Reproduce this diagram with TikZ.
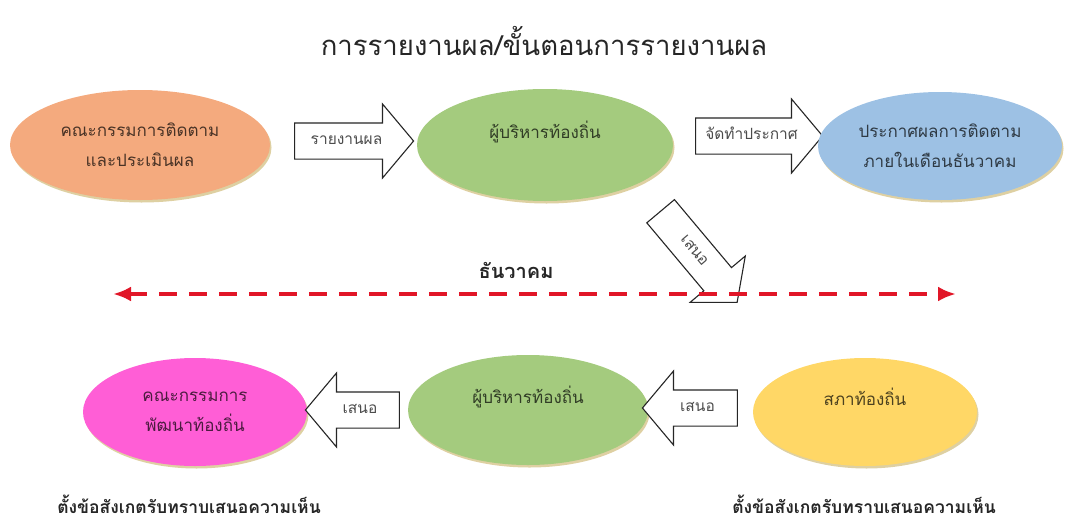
\documentclass[tikz,border=0pt]{standalone}
\usepackage{fontspec}
\newfontfamily\thaifont[Script=Thai]{Loma}
\usetikzlibrary{shapes.geometric,shapes.arrows,shadows,arrows.meta}
\definecolor{cOrange}{RGB}{244,170,126}
\definecolor{cGreen}{RGB}{164,203,126}
\definecolor{cBlue}{RGB}{157,193,228}
\definecolor{cPink}{RGB}{255,94,214}
\definecolor{cYellow}{RGB}{255,215,102}
\definecolor{rim}{RGB}{222,208,162}
\definecolor{cRed}{RGB}{225,22,40}
\begin{document}
\begin{tikzpicture}[x=1pt,y=-1pt,font=\thaifont,
  blob/.style={ellipse,inner sep=0pt,align=center,fill=#1,text=#1!30!black,
    font=\thaifont\fontsize{17}{30}\selectfont,
    drop shadow={shadow xshift=1.5pt,shadow yshift=-2.5pt,fill=rim,opacity=1}},
  blk/.style={single arrow,draw=black!85,fill=white,line width=1.1pt,
    single arrow head extend=19pt,single arrow tip angle=100,
    text height=11pt,text depth=4pt,inner ysep=10pt,inner xsep=2pt,
    text=black!70,font=\thaifont\fontsize{15.5}{17}\selectfont},
  back/.style={blk,shape border rotate=180},
  caption/.style={font=\thaifont\bfseries\fontsize{17.5}{20}\selectfont,text=black!85}]
\useasboundingbox (0,0) rectangle (1070,522);
\node[font=\thaifont\fontsize{27.5}{30}\selectfont,text=black!85] (title) at (544,41) {การรายงานผล/ขั้นตอนการรายงานผล};
\node[blob=cOrange,minimum width=260pt,minimum height=110pt] (evaluate) at (140,145) {คณะกรรมการติดตาม\\และประเมินผล};
\node[blk,minimum height=119pt] (report) at (346.5,141) {รายงานผล};
\node[blob=cGreen,minimum width=256pt,minimum height=112pt] (exec) at (545,145) {ผู้บริหารท้องถิ่น\\\mbox{}};
\node[blk,minimum height=127pt] (announce) at (751.5,136) {จัดทำประกาศ};
\node[blob=cBlue,minimum width=244pt,minimum height=108pt] (notice) at (940,146) {ประกาศผลการติดตาม\\ภายในเดือนธันวาคม};
\node[blk,rotate=-50,minimum height=119pt,single arrow head extend=18pt] (propose) at (694,251) {เสนอ};
\coordinate (west) at (113,294);
\coordinate (east) at (956,294);
\draw[cRed,line width=4pt,dash pattern=on 18pt off 12pt,{Latex[length=18pt,width=15pt]}-{Latex[length=18pt,width=15pt]}] (west) -- (east);
\node[caption,font=\thaifont\bfseries\fontsize{20}{22}\selectfont] (month) at (516,270) {ธันวาคม};
\node[blob=cPink,minimum width=224pt,minimum height=108pt] (devboard) at (195,412) {คณะกรรมการ\\พัฒนาท้องถิ่น};
\node[back,minimum height=94pt] (propose2) at (360,410) {เสนอ};
\node[blob=cGreen,minimum width=240pt,minimum height=110pt] (exec2) at (528,410) {ผู้บริหารท้องถิ่น\\\mbox{}};
\node[back,minimum height=95pt] (propose3) at (697.5,408) {เสนอ};
\node[blob=cYellow,minimum width=224pt,minimum height=108pt] (council) at (865,412) {สภาท้องถิ่น\\\mbox{}};
\node[caption] (note1) at (189,504) {ตั้งข้อสังเกตรับทราบเสนอความเห็น};
\node[caption] (note2) at (864,504) {ตั้งข้อสังเกตรับทราบเสนอความเห็น};
\end{tikzpicture}
\end{document}
